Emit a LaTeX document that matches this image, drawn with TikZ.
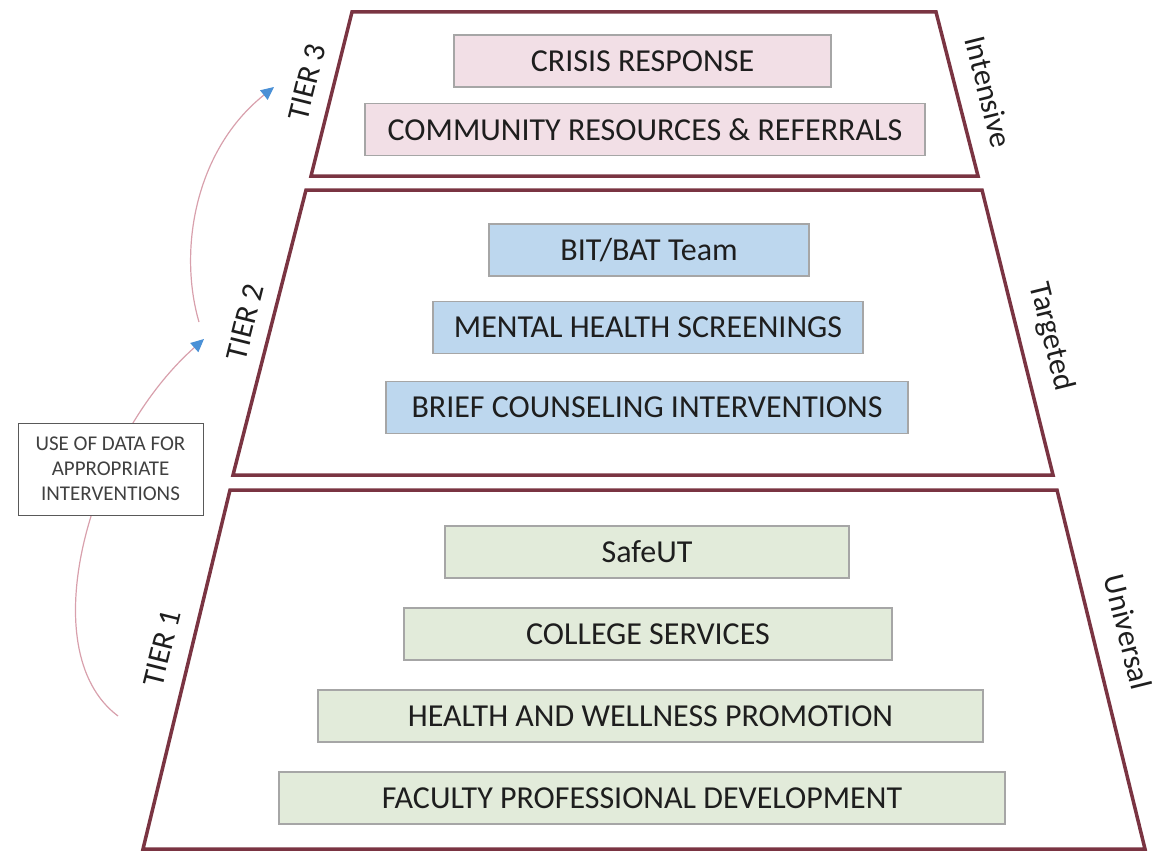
\documentclass[tikz,border=0pt]{standalone}
\usepackage{fontspec}
\setmainfont{Carlito}
\usetikzlibrary{arrows.meta}
\definecolor{maroon}{RGB}{122,52,66}
\definecolor{pinkfill}{RGB}{242,223,230}
\definecolor{bluefill}{RGB}{189,215,238}
\definecolor{greenfill}{RGB}{226,235,218}
\definecolor{boxline}{RGB}{166,166,166}
\definecolor{txt}{RGB}{30,30,30}
\definecolor{curvecol}{RGB}{216,160,172}
\definecolor{tipblue}{RGB}{74,144,214}
\tikzset{
  tierframe/.style={draw=maroon, line width=3.5pt, line join=miter},
  item/.style={draw=boxline, line width=1.3pt, minimum height=52pt, inner sep=0pt,
    font=\fontsize{32}{36}\selectfont, text=txt},
  tierlabel/.style={font=\fontsize{31}{34}\selectfont, text=txt, inner sep=0pt},
  databox/.style={draw=black!65, line width=1pt, minimum width=185pt, minimum height=92pt,
    inner sep=0pt, align=center, font=\fontsize{21}{25}\selectfont, text=black!75},
  flow/.style={draw=curvecol, line width=1.2pt, -{Triangle[length=13pt,width=12pt,color=tipblue,fill=tipblue]}}
}
\begin{document}
\begin{tikzpicture}[x=1pt,y=-1pt]
\useasboundingbox (0,0) rectangle (1166,851);
% tier frames
\draw[tierframe] (352,12) -- (936,12) -- (978,176) -- (311,176) -- cycle;
\draw[tierframe] (306,190) -- (982,190) -- (1053,475) -- (233,475) -- cycle;
\draw[tierframe] (230,490) -- (1057,490) -- (1145,849) -- (143,849) -- cycle;
% tier 3 items
\node[item, fill=pinkfill, minimum width=377pt] (crisis) at (642.5,61) {CRISIS RESPONSE};
\node[item, fill=pinkfill, minimum width=560pt] (community) at (645,129.5) {COMMUNITY RESOURCES \& REFERRALS};
% tier 2 items
\node[item, fill=bluefill, minimum width=320pt] (bit) at (649,250) {BIT/BAT Team};
\node[item, fill=bluefill, minimum width=430pt] (mental) at (648,327.5) {MENTAL HEALTH SCREENINGS};
\node[item, fill=bluefill, minimum width=522pt] (brief) at (647,407.5) {BRIEF COUNSELING INTERVENTIONS};
% tier 1 items
\node[item, fill=greenfill, minimum width=404pt] (safeut) at (647,552) {SafeUT};
\node[item, fill=greenfill, minimum width=488pt] (college) at (648,634) {COLLEGE SERVICES};
\node[item, fill=greenfill, minimum width=665pt] (health) at (650.5,716) {HEALTH AND WELLNESS PROMOTION};
\node[item, fill=greenfill, minimum width=726pt] (faculty) at (642,798) {FACULTY PROFESSIONAL DEVELOPMENT};
% side labels
\node[tierlabel, rotate=76] (t3) at (307,82) {TIER 3};
\node[tierlabel, rotate=76] (t2) at (245,322) {TIER 2};
\node[tierlabel, rotate=76] (t1) at (162,648) {TIER 1};
\node[tierlabel, rotate=-76] (intensive) at (989,92) {Intensive};
\node[tierlabel, rotate=-76] (targeted) at (1051,337) {Targeted};
\node[tierlabel, rotate=-76] (universal) at (1128,632) {Universal};
% data box and curves
\coordinate (c1s) at (118,716);
\coordinate (c1e) at (204,339);
\coordinate (c2s) at (199,322);
\coordinate (c2e) at (274,87);
\draw[flow] (c1s) .. controls (30,650) and (90,440) .. (c1e);
\draw[flow] (c2s) .. controls (178,250) and (195,150) .. (c2e);
\node[databox, fill=white] (data) at (110.5,469) {USE OF DATA FOR\\APPROPRIATE\\INTERVENTIONS};
\end{tikzpicture}
\end{document}
